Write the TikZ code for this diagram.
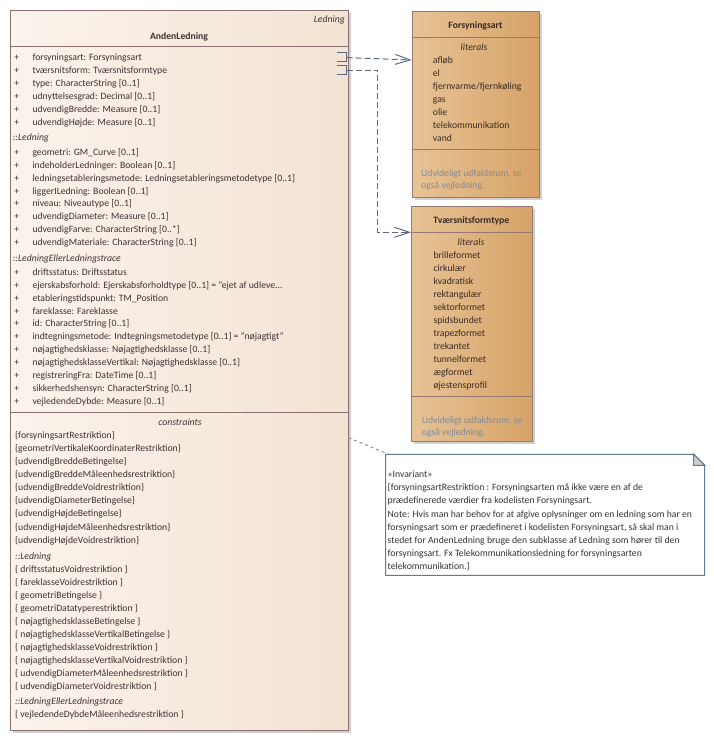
\documentclass[tikz,border=0pt]{standalone}
\usepackage{fontspec}
\setmainfont{Carlito}
\usetikzlibrary{arrows.meta,calc}
\newcommand{\tdots}{...}
\newcommand{\fsz}{\fontsize{9.7}{11}\selectfont}
\definecolor{mainL}{RGB}{251,243,236}
\definecolor{mainR}{RGB}{243,227,212}
\definecolor{mainB}{RGB}{140,112,112}
\definecolor{enumL}{RGB}{231,195,150}
\definecolor{enumR}{RGB}{214,162,103}
\definecolor{enumB}{RGB}{150,122,112}
\definecolor{txt}{RGB}{62,50,50}
\definecolor{etxt}{RGB}{58,42,35}
\definecolor{gtxt}{RGB}{130,138,150}
\definecolor{connC}{RGB}{92,106,132}
\definecolor{noteB}{RGB}{95,125,145}
\definecolor{noteL}{RGB}{120,150,170}
\definecolor{shad}{RGB}{208,208,208}
\begin{document}
\begin{tikzpicture}[x=1pt,y=-1pt,
  attr/.style={inner sep=0pt, anchor=base west, text=txt, font=\fsz},
  plus/.style={inner sep=0pt, anchor=base, text=txt, font=\fsz},
  grp/.style={attr, font=\fsz\itshape},
  lit/.style={attr, text=etxt},
  gray/.style={attr, text=gtxt},
  mainbox/.style={draw=mainB, line width=1pt, left color=mainL, right color=mainR, inner sep=0pt, anchor=north west},
  enumbox/.style={draw=enumB, line width=1pt, left color=enumL, right color=enumR, inner sep=0pt, anchor=north west},
  sep/.style={draw=mainB, line width=1pt},
  esep/.style={draw=enumB, line width=1pt},
  port/.style={draw=connC, line width=1pt},
  depend/.style={draw=connC, line width=1pt, dash pattern=on 6pt off 3pt, -{Straight Barb[length=15pt,width=10pt]}},
  notelink/.style={draw=noteL, line width=1pt, dash pattern=on 3pt off 3pt}]
\useasboundingbox (0,0) rectangle (714,741);
% shadows
\fill[shad] (13,13) rectangle (351,733);
\fill[shad] (414.7,13.7) rectangle (542.3,200.3);
\fill[shad] (414,208.7) rectangle (534.7,443.7);
% main class
\node[mainbox, minimum width=338pt, minimum height=720pt] (main) at (10,10) {};
\draw[sep] (10,46.7) -- (348,46.7);
\draw[sep] (10,412.7) -- (348,412.7);
\node[grp, anchor=base east] (stereo) at (345,23) {Ledning};
\node[attr, anchor=base, font=\fsz\bfseries] (title) at (179,39.7) {AndenLedning};
\foreach \t [count=\i] in {forsyningsart: Forsyningsart, tværsnitsform: Tværsnitsformtype, type: CharacterString [0..1], udnyttelsesgrad: Decimal [0..1], udvendigBredde: Measure [0..1], udvendigHøjde: Measure [0..1]}
  {\node[attr] (ga\i) at (32.3,47.8+12.9*\i) {\t};
   \node[plus] (pa\i) at (16.7,47.8+12.9*\i) {+};}
\node[grp] (h1) at (12.7,140) {::Ledning};
\foreach \t [count=\i] in {geometri: GM\_Curve [0..1], indeholderLedninger: Boolean [0..1], ledningsetableringsmetode: Ledningsetableringsmetodetype [0..1], liggerILedning: Boolean [0..1], niveau: Niveautype [0..1], udvendigDiameter: Measure [0..1], udvendigFarve: CharacterString [0..*], udvendigMateriale: CharacterString [0..1]}
  {\node[attr] (gb\i) at (32.3,142.4+12.9*\i) {\t};
   \node[plus] (pb\i) at (16.7,142.4+12.9*\i) {+};}
\node[grp] (h2) at (12.7,261.3) {::LedningEllerLedningstrace};
\foreach \t [count=\i] in {driftsstatus: Driftsstatus, ejerskabsforhold: Ejerskabsforholdtype [0..1] = "ejet af udleve\tdots, etableringstidspunkt: TM\_Position, fareklasse: Fareklasse, id: CharacterString [0..1], indtegningsmetode: Indtegningsmetodetype [0..1] = "nøjagtigt", nøjagtighedsklasse: Nøjagtighedsklasse [0..1], nøjagtighedsklasseVertikal: Nøjagtighedsklasse [0..1], registreringFra: DateTime [0..1], sikkerhedshensyn: CharacterString [0..1], vejledendeDybde: Measure [0..1]}
  {\node[attr] (gc\i) at (32.3,262.4+12.9*\i) {\t};
   \node[plus] (pc\i) at (16.7,262.4+12.9*\i) {+};}
\node[grp, anchor=base] (ch) at (180,425.7) {constraints};
\foreach \t [count=\i] in {\{forsyningsartRestriktion\}, \{geometriVertikaleKoordinaterRestriktion\}, \{udvendigBreddeBetingelse\}, \{udvendigBreddeMåleenhedsrestriktion\}, \{udvendigBreddeVoidrestriktion\}, \{udvendigDiameterBetingelse\}, \{udvendigHøjdeBetingelse\}, \{udvendigHøjdeMåleenhedsrestriktion\}, \{udvendigHøjdeVoidrestriktion\}}
  {\node[attr] (ca\i) at (15,425.7+13.04*\i) {\t};}
\node[grp] (h3) at (15,559) {::Ledning};
\foreach \t [count=\i] in {\{ driftsstatusVoidrestriktion \}, \{ fareklasseVoidrestriktion \}, \{ geometriBetingelse \}, \{ geometriDatatyperestriktion \}, \{ nøjagtighedsklasseBetingelse \}, \{ nøjagtighedsklasseVertikalBetingelse \}, \{ nøjagtighedsklasseVoidrestriktion \}, \{ nøjagtighedsklasseVertikalVoidrestriktion \}, \{ udvendigDiameterMåleenhedsrestriktion \}, \{ udvendigDiameterVoidrestriktion \}}
  {\node[attr] (cb\i) at (15,559.3+13*\i) {\t};}
\node[grp] (h4) at (15,704.3) {::LedningEllerLedningstrace};
\node[attr] (cc1) at (15,717.2) {\{ vejledendeDybdeMåleenhedsrestriktion \}};
% ports
\coordinate (p1) at (346.7,57.6);
\coordinate (p2) at (346.7,70.2);
\draw[port] (336.7,52.3) -- (346.7,52.3) -- (346.7,62) -- (336.7,62);
\draw[port] (336.7,65.3) -- (346.7,65.3) -- (346.7,74.6) -- (336.7,74.6);
% Forsyningsart
\node[enumbox, minimum width=127.6pt, minimum height=186.6pt] (fors) at (411.7,10.7) {};
\draw[esep] (411.7,37.3) -- (539.3,37.3);
\draw[esep] (411.7,149.3) -- (539.3,149.3);
\node[attr, anchor=base, text=etxt, font=\fsz\bfseries] (ftitle) at (475.5,29) {Forsyningsart};
\node[grp, anchor=base, text=etxt] (flit) at (474,50.7) {literals};
\foreach \t [count=\i] in {afløb, el, fjernvarme/fjernkøling, gas, olie, telekommunikation, vand}
  {\node[lit] (fl\i) at (432.7,50.7+13*\i) {\t};}
\node[gray] (fn1) at (421,176.3) {Udvideligt udfaldsrum, se};
\node[gray] (fn2) at (421,188.3) {også vejledning.};
% Tvaersnitsformtype
\node[enumbox, minimum width=120.7pt, minimum height=235pt] (tvaers) at (411,205.7) {};
\draw[esep] (411,232.3) -- (531.7,232.3);
\draw[esep] (411,396.7) -- (531.7,396.7);
\node[attr, anchor=base, text=etxt, font=\fsz\bfseries] (ttitle) at (471.4,223.7) {Tværsnitsformtype};
\node[grp, anchor=base, text=etxt] (tlit) at (471,245.7) {literals};
\foreach \t [count=\i] in {brilleformet, cirkulær, kvadratisk, rektangulær, sektorformet, spidsbundet, trapezformet, trekantet, tunnelformet, ægformet, øjestensprofil}
  {\node[lit] (tl\i) at (433.3,245.7+13*\i) {\t};}
\node[gray] (tn1) at (421.7,423) {Udvideligt udfaldsrum, se};
\node[gray] (tn2) at (421.7,435.3) {også vejledning.};
% dependencies
\coordinate (f1) at (411.7,60);
\coordinate (t1) at (411,232.3);
\draw[depend] (p1) -- (f1);
\draw[depend] (p2) -- ++(30.8,0) |- (t1);
% note
\node[inner sep=0pt, anchor=north west, minimum width=318.6pt, minimum height=120.7pt] (note) at (385.7,454.3) {};
\draw[draw=noteB, line width=1pt, fill=white] (note.north west) -- ($(note.north east)+(-11,0)$) -- ($(note.north east)+(0,11)$) -- (note.south east) -- (note.south west) -- cycle;
\draw[draw=noteB, line width=1pt, fill=shad] ($(note.north east)+(-11,0)$) -- ($(note.north east)+(-11,11)$) -- ($(note.north east)+(0,11)$) -- cycle;
\foreach \t [count=\i] in {«Invariant», \{forsyningsartRestriktion : Forsyningsarten må ikke være en af de, prædefinerede værdier fra kodelisten Forsyningsart., Note: Hvis man har behov for at afgive oplysninger om en ledning som har en, {forsyningsart som er prædefineret i kodelisten Forsyningsart, så skal man i}, stedet for AndenLedning bruge den subklasse af Ledning som hører til den, forsyningsart. Fx Telekommunikationsledning for forsyningsarten, telekommunikation.\}}
  {\node[attr, text=black!80] (nt\i) at (387.5,464.2+13.2*\i) {\t};}
\coordinate (nc) at (348.5,437.7);
\draw[notelink] (nc) -- ($(note.north west)+(3,0)$);
\end{tikzpicture}
\end{document}
